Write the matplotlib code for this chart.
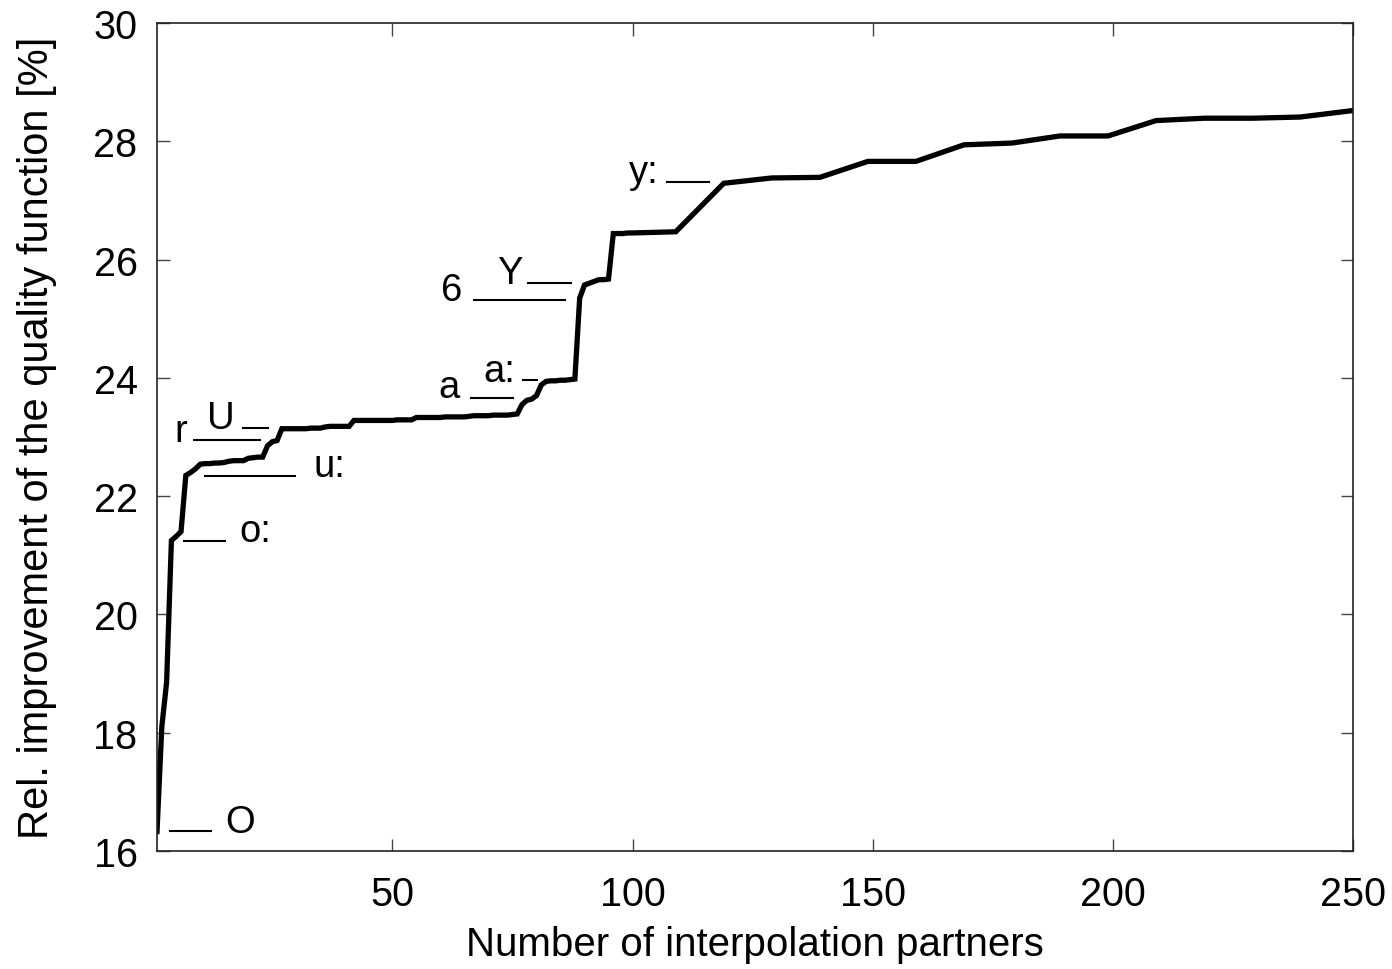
import matplotlib
matplotlib.use("Agg")
import matplotlib.pyplot as plt

plt.rcParams['font.family'] = ['Liberation Sans', 'DejaVu Sans']

# number of interpolation partners
partners = list(range(1, 101)) + [109, 119, 129, 139, 149, 159, 169, 179, 189, 199,
                                   209, 219, 229, 239, 250]

# relative improvement [%]
improvement = [
    16.33, 18.10, 18.85, 21.25, 21.32, 21.40, 22.35, 22.40, 22.46, 22.54,   # 1-10
    22.55, 22.55, 22.56, 22.56, 22.57, 22.59, 22.60, 22.60, 22.60, 22.64,   # 11-20
    22.65, 22.66, 22.66, 22.85, 22.92, 22.94, 23.14, 23.14, 23.14, 23.14,   # 21-30
    23.14, 23.14, 23.15, 23.15, 23.15, 23.17, 23.18, 23.18, 23.18, 23.18,   # 31-40
    23.18, 23.28, 23.28, 23.28, 23.28, 23.28, 23.28, 23.28, 23.28, 23.28,   # 41-50
    23.29, 23.29, 23.29, 23.29, 23.33, 23.33, 23.33, 23.33, 23.33, 23.33,   # 51-60
    23.34, 23.34, 23.34, 23.34, 23.34, 23.35, 23.36, 23.36, 23.36, 23.36,   # 61-70
    23.37, 23.37, 23.37, 23.37, 23.38, 23.39, 23.55, 23.62, 23.64, 23.70,   # 71-80
    23.88, 23.94, 23.95, 23.95, 23.96, 23.96, 23.97, 23.98, 25.35, 25.57,   # 81-90
    25.60, 25.63, 25.66, 25.66, 25.67, 26.44, 26.44, 26.44, 26.45, 26.45,   # 91-100
    26.47, 27.29, 27.38, 27.39, 27.66, 27.66, 27.94, 27.97, 28.09, 28.09,
    28.35, 28.39, 28.39, 28.41, 28.52,
]

# annotation labels: text, x, y (baseline)
label_texts = ['O', 'o:', 'u:', 'r', 'U', 'a', 'a:', '6', 'Y', 'y:']
label_x = [15.2, 18.2, 33.6, 4.6, 11.5, 59.6, 68.9, 60.1, 71.8, 99.3]
label_y = [16.32, 21.25, 22.34, 22.93, 23.15, 23.67, 23.95, 25.32, 25.60, 27.31]

# underline strokes next to the labels: x start, x end, y
stroke_x0 = [3.4, 6.4, 10.7, 8.5, 18.7, 66.2, 77.0, 66.8, 78.1, 107.0]
stroke_x1 = [12.5, 15.4, 30.0, 22.7, 24.3, 75.4, 80.4, 86.2, 87.4, 116.2]
stroke_y = [16.34, 21.24, 22.34, 22.95, 23.15, 23.66, 23.96, 25.31, 25.60, 27.31]

fig = plt.figure(figsize=(13.92, 9.70), dpi=100)
ax = fig.add_axes([157/1392, 1 - 852/970, (1353-157)/1392, (852-24)/970])

ax.plot(partners, improvement, color='black', linewidth=3.8, solid_joinstyle='miter')

ax.hlines(stroke_y, stroke_x0, stroke_x1, color='black', linewidth=1.5)
for t, x, y in zip(label_texts, label_x, label_y):
    ax.text(x, y, t, fontsize=27.5, ha='left', va='baseline')

ax.set_xlim(1, 250)
ax.set_ylim(16, 30)
ax.set_xticks([50, 100, 150, 200, 250])
ax.set_yticks(range(16, 31, 2))

ax.tick_params(direction='in', length=9, width=1, labelsize=28.5,
               top=True, right=True, color='#444444')
ax.tick_params(axis='x', pad=17)
ax.tick_params(axis='y', pad=14)
for s in ax.spines.values():
    s.set_linewidth(1.2)
    s.set_color('#222222')

ax.set_xlabel('Number of interpolation partners', fontsize=29, labelpad=9)
ax.set_ylabel('Rel. improvement of the quality function [%]', fontsize=30, labelpad=26)

fig.savefig('out.png', dpi=100)
